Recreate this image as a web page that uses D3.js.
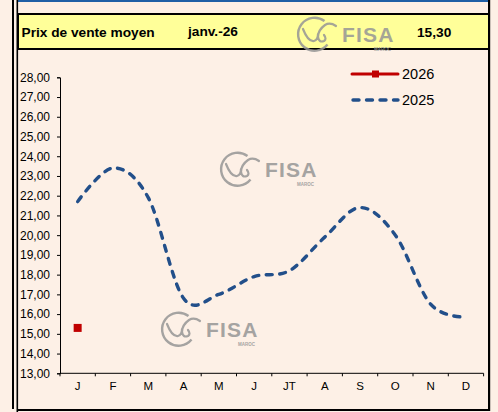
<!DOCTYPE html>
<html>
<head>
<meta charset="utf-8">
<script src="https://cdn.jsdelivr.net/npm/d3@7"></script>
<style>
  body { margin: 0; background: #fdf0e6; }
  svg { display: block; font-family: Arial, "Liberation Sans", sans-serif; }
</style>
</head>
<body>
<div id="chart"></div>
<script>
// ---------------- DATA ----------------
var months = ["J", "F", "M", "A", "M", "J", "JT", "A", "S", "O", "N", "D"];
var values2025 = [21.7, 23.4, 21.9, 16.8, 17.0, 17.9, 18.2, 19.9, 21.4, 20.0, 16.5, 15.85];
var values2026 = [15.30];
var yTicks = [13, 14, 15, 16, 17, 18, 19, 20, 21, 22, 23, 24, 25, 26, 27, 28];
var seriesNames = ["2026", "2025"];
var headerLabel = "Prix de vente moyen";
var headerMonth = "janv.-26";
var headerValue = "15,30";

(function() {
    var width = 498,
        height = 412;

    var svg = d3.select("#chart")
        .append("svg")
        .attr("width", width)
        .attr("height", height);

    var red = "#c00000",
        blue = "#224f8a",
        logoGrey = "#969696";

    // ---------------- FRAME (spreadsheet borders) ----------------
    svg.append("rect").attr("width", width).attr("height", height).attr("fill", "#fdf0e6");
    // blue top line
    svg.append("rect").attr("x", 17).attr("y", 0).attr("width", 473).attr("height", 2).attr("fill", "#1f5fa6");
    // yellow header band
    svg.append("rect").attr("x", 18).attr("y", 14).attr("width", 471).attr("height", 35)
        .attr("fill", "#ffff99").attr("stroke", "#000").attr("stroke-width", 2);
    // vertical lines on the left
    svg.append("rect").attr("x", 12).attr("y", 0).attr("width", 2).attr("height", 409).attr("fill", "#000");
    svg.append("rect").attr("x", 16.5).attr("y", 0).attr("width", 1.6).attr("height", 412).attr("fill", "#000");
    // right + bottom borders
    svg.append("rect").attr("x", 488).attr("y", 0).attr("width", 2.2).attr("height", 411).attr("fill", "#000");
    svg.append("rect").attr("x", 17).attr("y", 409).attr("width", 473).attr("height", 2).attr("fill", "#000");

    // header texts
    var header = svg.append("g").attr("font-weight", "bold").attr("font-size", 13.7).attr("fill", "#000");
    header.append("text").attr("x", 21.5).attr("y", 36.5).text(headerLabel);
    header.append("text").attr("x", 188).attr("y", 36).text(headerMonth);
    header.append("text").attr("x", 417).attr("y", 36.5).text(headerValue);

    // ---------------- WATERMARK LOGO ----------------
    function drawLogo(x, y) {
        var g = svg.append("g").attr("transform", "translate(" + x + "," + y + ")")
            .attr("opacity", 0.85);
        g.append("path")
            .attr("d", "M -17.5,-21 A 16.5 16.5 0 1 0 -14.5,2.5")
            .attr("fill", "none").attr("stroke", logoGrey).attr("stroke-width", 2.4);
        g.append("path")
            .attr("d", "M -39,-13 Q -34,0 -28,-1 Q -24,-2 -24,-8 M -17,-17 Q -24,-12 -24,-5 Q -23,1 -18,-1 Q -15,-3 -18,-7 M -17,-17 Q -12,-20 -6,-16")
            .attr("fill", "none").attr("stroke", logoGrey).attr("stroke-width", 2.2)
            .attr("stroke-linecap", "round");
        g.append("text").attr("x", 0).attr("y", 0)
            .attr("font-size", 21).attr("font-weight", "bold")
            .attr("letter-spacing", 1.2).attr("fill", logoGrey).text("FISA");
        g.append("text").attr("x", 32).attr("y", 8.5)
            .attr("font-size", 4.5).attr("font-weight", "bold")
            .attr("fill", logoGrey).text("MAROC");
    }
    drawLogo(342, 42);
    drawLogo(265, 177);
    drawLogo(206, 337);

    // ---------------- SCALES ----------------
    var x = d3.scaleBand().domain(d3.range(months.length)).range([60, 483.6]).padding(0);
    var y = d3.scaleLinear().domain([13, 28]).range([373.3, 77.3]);

    function cx(i) { return x(i) + x.bandwidth() / 2; }
    var commaFmt = function(v) { return d3.format(".2f")(v).replace(".", ","); };

    // ---------------- AXES ----------------
    var yAxis = svg.append("g")
        .attr("transform", "translate(60,0)")
        .call(d3.axisLeft(y).tickValues(yTicks).tickSize(3).tickPadding(7).tickFormat(commaFmt));
    yAxis.selectAll("text").attr("font-size", 12).attr("fill", "#000").attr("font-family", "Arial, 'Liberation Sans', sans-serif");
    yAxis.selectAll("line").attr("stroke", "#000");
    yAxis.select(".domain").attr("stroke", "#000");

    var xAxis = svg.append("g")
        .attr("transform", "translate(0,373.3)");
    xAxis.append("line")
        .attr("x1", x.range()[0]).attr("x2", x.range()[1])
        .attr("stroke", "#000");
    xAxis.selectAll(".tk")
        .data(d3.range(months.length + 1))
        .enter().append("line")
        .attr("class", "tk")
        .attr("x1", function(i) { return x.range()[0] + i * x.bandwidth(); })
        .attr("x2", function(i) { return x.range()[0] + i * x.bandwidth(); })
        .attr("y1", 0).attr("y2", 3)
        .attr("stroke", "#000");
    xAxis.selectAll(".lbl")
        .data(months)
        .enter().append("text")
        .attr("class", "lbl")
        .attr("x", function(d, i) { return cx(i); })
        .attr("y", 17)
        .attr("text-anchor", "middle")
        .attr("font-size", 11.5)
        .attr("fill", "#000")
        .text(function(d) { return d; });

    // ---------------- SERIES ----------------
    var line = d3.line()
        .x(function(d, i) { return cx(i); })
        .y(function(d) { return y(d); })
        .curve(d3.curveCatmullRom.alpha(0));

    svg.append("path")
        .datum(values2025)
        .attr("d", line)
        .attr("fill", "none")
        .attr("stroke", blue)
        .attr("stroke-width", 3.4)
        .attr("stroke-dasharray", "6 7.5")
        .attr("stroke-linecap", "round");

    svg.selectAll(".pt2026")
        .data(values2026)
        .enter().append("rect")
        .attr("class", "pt2026")
        .attr("x", function(d, i) { return cx(i) - 4; })
        .attr("y", function(d) { return y(d) - 4; })
        .attr("width", 8).attr("height", 8)
        .attr("fill", red);

    // ---------------- LEGEND ----------------
    var legend = svg.append("g");
    legend.append("line").attr("x1", 352).attr("x2", 398).attr("y1", 74).attr("y2", 74)
        .attr("stroke", red).attr("stroke-width", 3).attr("stroke-linecap", "round");
    legend.append("rect").attr("x", 372).attr("y", 70.5).attr("width", 7).attr("height", 7).attr("fill", red);
    legend.append("text").attr("x", 402).attr("y", 79).attr("font-size", 14.5).attr("fill", "#000").text(seriesNames[0]);

    legend.append("line").attr("x1", 353).attr("x2", 398).attr("y1", 100).attr("y2", 100)
        .attr("stroke", blue).attr("stroke-width", 3.4).attr("stroke-linecap", "round")
        .attr("stroke-dasharray", "6 7.5");
    legend.append("text").attr("x", 402).attr("y", 105).attr("font-size", 14.5).attr("fill", "#000").text(seriesNames[1]);
})();
</script>
</body>
</html>
